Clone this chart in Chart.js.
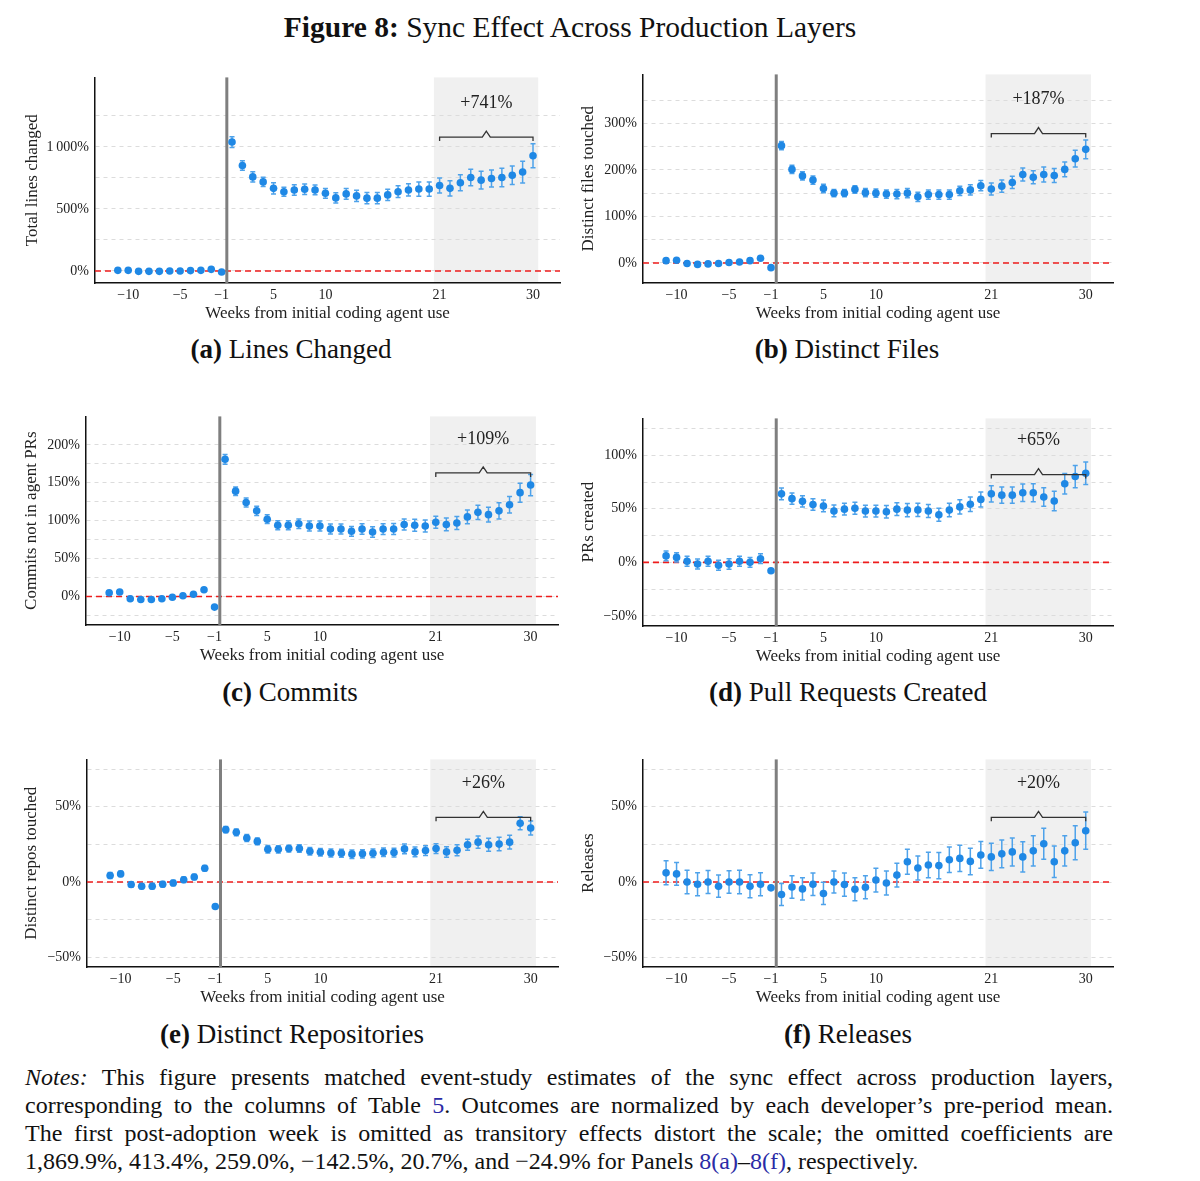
<!DOCTYPE html>
<html>
<head>
<meta charset="utf-8">
<script src="https://cdn.jsdelivr.net/npm/chart.js@4.4.1/dist/chart.umd.min.js"></script>
<style>
  body { margin: 0; background: #fff; font-family: "Liberation Serif", serif; color: #111; }
  #page { position: relative; width: 1200px; height: 1181px; overflow: hidden; }
  canvas { position: absolute; }
  .txt { position: absolute; white-space: nowrap; transform: translate(-50%, -50%); }
  .title { font-size: 29.5px; }
  .cap { font-size: 27px; }
  .notes { position: absolute; left: 25px; top: 1063px; width: 1088px; font-size: 24px; }
  .notes div { height: 28px; line-height: 28px; text-align: justify; text-align-last: justify; white-space: nowrap; }
  .notes div.last { text-align-last: left; }
  .ref { color: #2b2ba6; }
</style>
</head>
<body>
<div id="page">
  <div class="txt title" style="left:570px;top:27px"><b>Figure 8:</b> Sync Effect Across Production Layers</div>
  <div class="txt cap" style="left:291px;top:349px"><b>(a)</b> Lines Changed</div>
  <div class="txt cap" style="left:847px;top:349px"><b>(b)</b> Distinct Files</div>
  <div class="txt cap" style="left:290px;top:692px"><b>(c)</b> Commits</div>
  <div class="txt cap" style="left:848px;top:692px"><b>(d)</b> Pull Requests Created</div>
  <div class="txt cap" style="left:292px;top:1034px"><b>(e)</b> Distinct Repositories</div>
  <div class="txt cap" style="left:848px;top:1034px"><b>(f)</b> Releases</div>
  <div class="notes">
    <div><i>Notes:</i> This figure presents matched event-study estimates of the sync effect across production layers,</div>
    <div>corresponding to the columns of Table <span class="ref">5</span>. Outcomes are normalized by each developer’s pre-period mean.</div>
    <div>The first post-adoption week is omitted as transitory effects distort the scale; the omitted coefficients are</div>
    <div class="last">1,869.9%, 413.4%, 259.0%, −142.5%, 20.7%, and −24.9% for Panels <span class="ref">8(a)</span>–<span class="ref">8(f)</span>, respectively.</div>
  </div>
</div>
<script>
// --- Data ---
// event weeks; week 0 is omitted
const weeks = [-11, -10, -9, -8, -7, -6, -5, -4, -3, -2, -1,
  1, 2, 3, 4, 5, 6, 7, 8, 9, 10, 11, 12, 13, 14, 15, 16, 17, 18, 19, 20,
  21, 22, 23, 24, 25, 26, 27, 28, 29, 30];
const weekTicks = [-10, -5, -1, 5, 10, 21, 30];

const linesEst = [5, 5, -3, -3, -3, 0, 0, 3, 5, 13, -8,
  1039, 850, 758, 718, 666, 639, 653, 658, 653, 626, 589, 621, 605, 587, 587,
  613, 639, 653, 660, 660, 689, 666, 711, 753, 732, 745, 753, 771, 797, 929];
const linesErr = [8, 8, 8, 8, 8, 8, 8, 8, 8, 8, null,
  43, 39, 42, 38, 45, 36, 42, 42, 39, 39, 42, 43, 45, 45, 45,
  45, 47, 49, 57, 57, 61, 61, 64, 67, 71, 68, 74, 75, 88, 97];

const filesEst = [5, 6, -1, -3, -2, -1, 1, 2, 5, 10, -10,
  252, 201, 187, 178, 160, 150, 150, 158, 151, 150, 148, 148, 150, 142, 147,
  147, 147, 155, 157, 166, 159, 165, 173, 190, 184, 190, 188, 201, 224, 244];
const filesErr = [2, 2, 2, 2, 2, 2, 2, 2, 2, 2, null,
  9, 9, 9, 9, 9, 8, 8, 8, 9, 9, 9, 10, 10, 10, 10,
  10, 10, 10, 11, 11, 13, 13, 13, 14, 14, 16, 15, 16, 18, 20];

const commitsEst = [5, 6, -3, -4, -4, -3, -1, 1, 3, 9, -14,
  181, 139, 124, 113, 102, 94, 94, 96, 93, 93, 89, 89, 86, 89, 85,
  89, 89, 95, 94, 93, 98, 95, 97, 105, 111, 108, 113, 121, 137, 147];
const commitsErr = [1.5, 1.5, 1.5, 1.5, 1.5, 1.5, 1.5, 1.5, 1.5, 1.5, null,
  6.5, 5.6, 6, 6, 5.8, 6, 6, 6.3, 6.5, 6.5, 6.5, 6.5, 6.5, 6.9, 6.9,
  7.1, 7.3, 7.3, 7.8, 7.8, 7.8, 8.4, 8.6, 9.1, 9.3, 9.7, 10.6, 11, 12.5, 14];

const prsEst = [6, 4.6, 1, -1.5, 1, -2.7, -1.5, 1, 0, 3.4, -7.9,
  64, 59.5, 57, 54, 52.7, 48, 49.7, 50.6, 47.9, 47.9, 47.3, 49.7, 48.8, 49, 48,
  44.5, 48.8, 51.8, 54.3, 58.8, 64, 62.8, 62.8, 65, 65, 61, 57.3, 73.5, 80.2, 83.2];
const prsErr = [4.6, 4.3, 4.7, 4.7, 4.7, 4.7, 4.9, 4.6, 4.6, 4.6, null,
  5.5, 5.3, 5.3, 5.3, 5.5, 5.5, 5.5, 5.6, 5.5, 5.5, 5.9, 5.9, 6.1, 6.1, 6.1,
  6.1, 6.3, 6.6, 6.7, 7, 7.6, 7.5, 7.6, 8.2, 8.4, 8.7, 9.1, 9.6, 10.4, 10.5];

const reposEst = [4.3, 5.4, -1.7, -2.8, -2.8, -1.5, -0.7, 1.5, 3.3, 9.1, -16.3,
  34.8, 33, 29.3, 27, 21.7, 21.7, 22.2, 22.2, 20.4, 19.8, 19.3, 19.1, 18.5, 18.7, 19.1,
  19.8, 19.6, 22, 20, 20.9, 22.2, 20, 21.1, 24.8, 26.5, 24.8, 25.2, 26.5, 39.1, 35.9];
const reposErr = [2, 1.8, 1.8, 1.7, 1.8, 1.8, 1.8, 1.8, 1.8, 1.8, null,
  2.1, 2.3, 2.3, 2.3, 2.5, 2.4, 2.3, 2.5, 2.5, 2.5, 2.6, 2.7, 2.8, 2.7, 2.8,
  2.8, 2.9, 3.3, 3.2, 3.2, 3.3, 3.5, 3.6, 3.7, 4, 4.3, 4.5, 4.6, 4.3, 4.7];

const releasesEst = [6.1, 5.4, 0, -1.5, 0, -2.8, 0, 0, -2.8, -1.5, -3.9,
  -8.3, -3.3, -4.6, -1.5, -7.6, 0, -1.7, -4.8, -3.5, 1.3, -0.7, 4.6, 13.5, 9.3, 11.3,
  10.9, 14.8, 15.7, 13.7, 18, 16.7, 18.7, 20, 16.7, 20.7, 25.4, 13.5, 20.7, 26.1, 34.1];
const releasesErr = [8, 7.6, 7.8, 7.6, 7.6, 7.4, 7.5, 7.8, 7.6, 7.6, null,
  7.3, 7.5, 7.4, 7.5, 7.4, 7.3, 7.7, 7.7, 7.7, 7.9, 8, 7.9, 8.3, 8, 8.4,
  8.7, 8.5, 8.7, 8.8, 8.9, 9.1, 9.2, 9.3, 10.1, 10, 10.3, 10.5, 10, 11.3, 12.4];

const effectLabels = ["+741%", "+187%", "+109%", "+65%", "+26%", "+20%"];
const yTitles = ["Total lines changed", "Distinct files touched", "Commits not in agent PRs",
  "PRs created", "Distinct repos touched", "Releases"];

// --- Panel layout ---
const panels = [
  { est: linesEst, err: linesErr, area: { l: 95, r: 560, t: 73, b: 283 }, left: 15,
    y: { min: -97, max: 1560, step: 250, label: 500, lo: 0, hi: 1250 }, bracket: 1079 },
  { est: filesEst, err: filesErr, area: { l: 643, r: 1113, t: 70, b: 283 }, left: 571,
    y: { min: -43, max: 405, step: 50, label: 100, lo: 0, hi: 350 }, bracket: 278 },
  { est: commitsEst, err: commitsErr, area: { l: 86, r: 558, t: 412, b: 625 }, left: 14,
    y: { min: -37.6, max: 237.6, step: 25, label: 50, lo: -25, hi: 200 }, bracket: 163 },
  { est: prsEst, err: prsErr, area: { l: 643, r: 1113, t: 414, b: 626 }, left: 571,
    y: { min: -59.5, max: 134.5, step: 25, label: 50, lo: -50, hi: 125 }, bracket: 82 },
  { est: reposEst, err: reposErr, area: { l: 87, r: 558, t: 755, b: 967 }, left: 14,
    y: { min: -56.5, max: 81.5, step: 25, label: 50, lo: -50, hi: 75 }, bracket: 43 },
  { est: releasesEst, err: releasesErr, area: { l: 643, r: 1113, t: 755, b: 967 }, left: 571,
    y: { min: -56.5, max: 81.5, step: 25, label: 50, lo: -50, hi: 75 }, bracket: 43 },
];

// week 0 is dropped, so post weeks shift one slot left
const pos = (w) => (w < 0 ? w : w - 1);
const minus = (s) => String(s).replace("-", "\u2212");
const fmtPct = (v) => {
  const a = Math.abs(v);
  const s = a >= 1000 ? Math.floor(a / 1000) + "\u2009" + String(a % 1000).padStart(3, "0") : String(a);
  return (v < 0 ? "\u2212" : "") + s + "%";
};

const FONT = "'Liberation Serif', serif";
const X_H = 42;

function makeOverlay(p, idx) {
  return {
    id: "overlay" + idx,
    beforeDraw(chart) {
      const { ctx, chartArea: a, scales: { x } } = chart;
      ctx.save();
      ctx.fillStyle = "#f0f0f0";
      const x1 = x.getPixelForValue(pos(21) - 0.55);
      const x2 = x.getPixelForValue(pos(30) + 0.5);
      ctx.fillRect(x1, a.top, x2 - x1, a.bottom - a.top);
      ctx.restore();
    },
    beforeDatasetsDraw(chart) {
      const { ctx, chartArea: a, scales: { x, y } } = chart;
      ctx.save();
      // zero line
      const y0 = y.getPixelForValue(0);
      ctx.strokeStyle = "#ee1c1c";
      ctx.lineWidth = 1.6;
      ctx.setLineDash([6, 4]);
      ctx.beginPath();
      ctx.moveTo(a.left, y0);
      ctx.lineTo(a.right, y0);
      ctx.stroke();
      ctx.setLineDash([]);
      // adoption line
      const xv = x.getPixelForValue(-0.5);
      ctx.strokeStyle = "#7f7f7f";
      ctx.lineWidth = 3;
      ctx.beginPath();
      ctx.moveTo(xv, a.top);
      ctx.lineTo(xv, a.bottom);
      ctx.stroke();
      // error bars
      ctx.strokeStyle = "#4ea2ea";
      ctx.lineWidth = 1.5;
      weeks.forEach((w, i) => {
        const e = p.err[i];
        if (e == null) return;
        const px = x.getPixelForValue(pos(w));
        const lo = y.getPixelForValue(p.est[i] - e);
        const hi = y.getPixelForValue(p.est[i] + e);
        ctx.beginPath();
        ctx.moveTo(px, lo); ctx.lineTo(px, hi);
        ctx.moveTo(px - 2.5, lo); ctx.lineTo(px + 2.5, lo);
        ctx.moveTo(px - 2.5, hi); ctx.lineTo(px + 2.5, hi);
        ctx.stroke();
      });
      ctx.restore();
    },
    afterDatasetsDraw(chart) {
      const { ctx, scales: { x, y } } = chart;
      const xa = x.getPixelForValue(pos(21));
      const xb = x.getPixelForValue(pos(30));
      const xm = (xa + xb) / 2;
      const yb = y.getPixelForValue(p.bracket);
      ctx.save();
      ctx.strokeStyle = "#333";
      ctx.lineWidth = 1.3;
      ctx.beginPath();
      ctx.moveTo(xa, yb + 4);
      ctx.lineTo(xa, yb);
      ctx.lineTo(xm - 4, yb);
      ctx.lineTo(xm, yb - 6);
      ctx.lineTo(xm + 4, yb);
      ctx.lineTo(xb, yb);
      ctx.lineTo(xb, yb + 4);
      ctx.stroke();
      ctx.fillStyle = "#222";
      ctx.font = "18px " + FONT;
      ctx.textAlign = "center";
      ctx.textBaseline = "middle";
      ctx.fillText(effectLabels[idx], xm, yb - 34);
      ctx.restore();
    },
  };
}

const page = document.getElementById("page");
panels.forEach((p, idx) => {
  const a = p.area;
  const top = a.t - 10;
  const canvas = document.createElement("canvas");
  canvas.width = a.r + 5 - p.left;
  canvas.height = a.b + X_H - top;
  canvas.style.left = p.left + "px";
  canvas.style.top = top + "px";
  page.appendChild(canvas);

  new Chart(canvas.getContext("2d"), {
    type: "scatter",
    data: {
      datasets: [{
        data: weeks.map((w, i) => ({ x: pos(w), y: p.est[i] })),
        backgroundColor: "#1f88e5",
        borderWidth: 0,
        pointRadius: 3.8,
      }],
    },
    options: {
      responsive: false,
      animation: false,
      events: [],
      layout: { padding: { top: 10, right: 5, left: 0, bottom: 0 } },
      plugins: { legend: { display: false }, tooltip: { enabled: false } },
      scales: {
        x: {
          type: "linear",
          min: -13.2,
          max: 31.6,
          afterFit: (s) => { s.height = X_H; },
          afterBuildTicks: (s) => { s.ticks = weekTicks.map((w) => ({ value: pos(w) })); },
          grid: { display: false, drawTicks: false },
          border: { display: true, color: "#111", width: 1.5 },
          ticks: {
            autoSkip: false, maxRotation: 0, padding: 4, color: "#222",
            font: { family: FONT, size: 14 },
            callback: (v) => minus(v < 0 ? v : v + 1),
          },
          title: {
            display: true, text: "Weeks from initial coding agent use", color: "#222",
            font: { family: FONT, size: 17 }, padding: { top: 0, bottom: 1 },
          },
        },
        y: {
          min: p.y.min,
          max: p.y.max,
          afterFit: (s) => { s.width = a.l - p.left; },
          afterBuildTicks: (s) => {
            const t = [];
            for (let v = p.y.lo; v <= p.y.hi; v += p.y.step) t.push({ value: v });
            s.ticks = t;
          },
          grid: { color: "#dcdcdc", lineWidth: 1, drawTicks: false },
          border: { display: true, color: "#111", width: 1.5, dash: [4, 4] },
          ticks: {
            autoSkip: false, padding: 6, color: "#222",
            font: { family: FONT, size: 14 },
            callback: (v) => (v % p.y.label === 0 ? fmtPct(v) : ""),
          },
          title: {
            display: true, text: yTitles[idx], color: "#222",
            font: { family: FONT, size: 17 }, padding: { top: 7, bottom: 0 },
          },
        },
      },
    },
    plugins: [makeOverlay(p, idx)],
  });
});
</script>
</body>
</html>
